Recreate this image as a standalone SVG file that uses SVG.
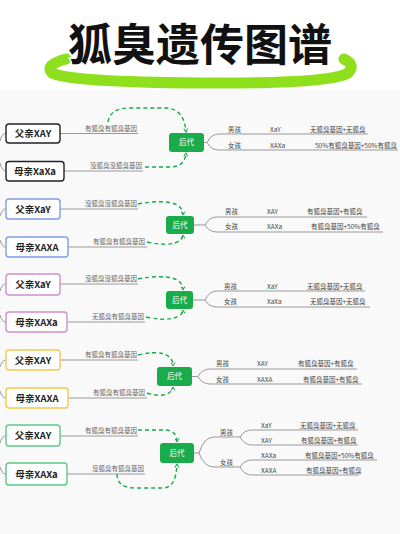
<svg xmlns="http://www.w3.org/2000/svg" width="400" height="534" viewBox="0 0 400 534">
<defs>
<style>
.bg{fill:#f9f9f9}
.pbox{fill:#fff;stroke-width:1.4}
.ptxt{font-family:"Noto Sans CJK SC","Noto Sans",sans-serif;font-weight:700;font-size:9.5px;fill:#222}
.lbl{font-family:"Noto Sans CJK SC","Noto Sans",sans-serif;font-size:6.5px;fill:#666}
.rt{font-family:"Noto Sans CJK SC","Noto Sans",sans-serif;font-size:6.5px;fill:#444}
.gl{fill:none;stroke:#999;stroke-width:1}
.dash{fill:none;stroke:#1aab4b;stroke-width:1.4;stroke-dasharray:4 3;marker-end:url(#arr)}
.kid{fill:#1aab4b}
.kt{font-family:"Noto Sans CJK SC","Noto Sans",sans-serif;font-size:7.5px;fill:#fff;text-anchor:middle}
</style>
<marker id="arr" viewBox="0 0 10 10" refX="8" refY="5" markerWidth="5" markerHeight="5" orient="auto" markerUnits="userSpaceOnUse">
<path d="M1 1 L8 5 L1 9" fill="none" stroke="#1aab4b" stroke-width="2"/>
</marker>
</defs>
<rect width="400" height="534" fill="#fff"/>
<rect class="bg" x="0" y="90" width="400" height="444"/>

<g id="title">
<path d="M66 59 Q44 65 52 73 Q70 82 200 83 Q330 84 348 73 Q356 65 344 59" fill="none" stroke="#8ee01c" stroke-width="11" stroke-linecap="round"/>
<text x="200" y="61" text-anchor="middle" font-family="Noto Sans CJK SC, sans-serif" font-weight="700" font-size="44" fill="#111" stroke="#fff" stroke-width="3" paint-order="stroke">狐臭遗传图谱</text>
</g>

<g id="connectors">
<path class="gl" d="M0 141 Q2 133 6 133.5"/>
<path class="gl" d="M0 163 Q2 171 6 171"/>
<path class="gl" d="M0 216 Q2 209 6 209"/>
<path class="gl" d="M0 240 Q2 247 6 247"/>
<path class="gl" d="M0 291 Q2 284 6 284"/>
<path class="gl" d="M0 315 Q2 322 6 322"/>
<path class="gl" d="M0 367 Q2 360 6 360"/>
<path class="gl" d="M0 391 Q2 398 6 398"/>
<path class="gl" d="M0 443 Q2 436 6 436"/>
<path class="gl" d="M0 467 Q2 474 6 474"/>
<path class="gl" d="M60 133.5 H138"/>
<path class="gl" d="M64 171 H143"/>
<path class="gl" d="M60 209 H138"/>
<path class="gl" d="M68 247 H147"/>
<path class="gl" d="M60 284 H138"/>
<path class="gl" d="M67 322 H145"/>
<path class="gl" d="M60 360 H138"/>
<path class="gl" d="M68 398 H147"/>
<path class="gl" d="M60 436 H138"/>
<path class="gl" d="M67 474 H145"/>
<path class="dash" d="M108 122 Q110 108 130 108 H165 Q184 108 186 132"/>
<path class="dash" d="M145 167 H172 Q185 166 186 153"/>
<path class="dash" d="M138 204 Q160 200 172 203 Q183 206 183 215"/>
<path class="dash" d="M147 242 Q165 246 175 243 Q183 240 183 235"/>
<path class="dash" d="M138 279 Q160 275 172 278 Q183 281 183 290"/>
<path class="dash" d="M146 317 Q164 321 174 318 Q183 315 183 310"/>
<path class="dash" d="M138 355 Q155 351 164 354 Q173 357 173 366"/>
<path class="dash" d="M147 393 Q160 397 167 394 Q173 391 173 387"/>
<path class="dash" d="M138 430 H166 Q177 431 177 442"/>
<path class="dash" d="M117 474 Q117 488 135 488 H163 Q176 488 177 464"/>
<path class="gl" d="M204 142.5 H207 Q211 134 219 134 H368"/>
<path class="gl" d="M207 142.5 Q211 150 219 150 H398"/>
<path class="gl" d="M194 225 H205 Q209 217 217 217 H367"/>
<path class="gl" d="M205 225 Q209 232 217 232 H383"/>
<path class="gl" d="M193 300 H205 Q209 291 217 291 H365"/>
<path class="gl" d="M205 300 Q209 307 217 307 H370"/>
<path class="gl" d="M192 376.5 H198 Q202 369 210 369 H357"/>
<path class="gl" d="M198 376.5 Q202 384 210 384 H362"/>
<path class="gl" d="M194 453 H199 Q204 437 214 437 H240"/>
<path class="gl" d="M199 453 Q204 467 214 467 H240"/>
<path class="gl" d="M240 437 Q244 430 252 430 H358"/>
<path class="gl" d="M240 437 Q244 445 252 445 H358"/>
<path class="gl" d="M240 467 Q244 460 252 460 H377"/>
<path class="gl" d="M240 467 Q244 475 252 475 H359"/>
</g>

<g id="labels">
<text class="lbl" x="85" y="130.5">有狐臭有狐臭基因</text>
<text class="lbl" x="90" y="168">没狐臭没狐臭基因</text>
<text class="lbl" x="85" y="206">没狐臭没狐臭基因</text>
<text class="lbl" x="93" y="244">有狐臭有狐臭基因</text>
<text class="lbl" x="85" y="281">没狐臭没狐臭基因</text>
<text class="lbl" x="92" y="319">无狐臭有狐臭基因</text>
<text class="lbl" x="85" y="357">有狐臭有狐臭基因</text>
<text class="lbl" x="93" y="395">有狐臭有狐臭基因</text>
<text class="lbl" x="85" y="433">有狐臭有狐臭基因</text>
<text class="lbl" x="92" y="471">没狐臭有狐臭基因</text>
</g>

<g id="set1">
<g id="father1"><rect class="pbox" x="6" y="124" width="54" height="19" rx="3" stroke="#222"/><text class="ptxt" x="33" y="137" text-anchor="middle">父亲XAY</text></g>
<g id="mother1"><rect class="pbox" x="6" y="161.5" width="58" height="19.5" rx="3" stroke="#222"/><text class="ptxt" x="35" y="174.5" text-anchor="middle">母亲XaXa</text></g>
<g id="child1"><rect class="kid" x="169" y="133" width="35" height="19" rx="3"/><text class="kt" x="186.5" y="145">后代</text></g>
<g id="res1">
<text class="rt" x="228" y="131.5">男孩</text><text class="rt" x="270" y="131.5">XaY</text><text class="rt" x="310" y="131.5">无狐臭基因+无狐臭</text>
<text class="rt" x="228" y="147.5">女孩</text><text class="rt" x="270" y="147.5">XAXa</text><text class="rt" x="315" y="147.5">50%有狐臭基因+50%有狐臭</text>
</g>
</g>

<g id="set2">
<g id="father2"><rect class="pbox" x="6" y="199" width="54" height="20" rx="3" stroke="#7d9de6"/><text class="ptxt" x="33" y="212.5" text-anchor="middle">父亲XaY</text></g>
<g id="mother2"><rect class="pbox" x="6" y="237" width="62" height="20" rx="3" stroke="#7d9de6"/><text class="ptxt" x="37" y="250.5" text-anchor="middle">母亲XAXA</text></g>
<g id="child2"><rect class="kid" x="166" y="216" width="28" height="18" rx="3"/><text class="kt" x="180" y="227.5">后代</text></g>
<g id="res2">
<text class="rt" x="225" y="214">男孩</text><text class="rt" x="267" y="214">XAY</text><text class="rt" x="307" y="214">有狐臭基因+有狐臭</text>
<text class="rt" x="225" y="229">女孩</text><text class="rt" x="267" y="229">XAXa</text><text class="rt" x="311" y="229">有狐臭基因+50%有狐臭</text>
</g>
</g>

<g id="set3">
<g id="father3"><rect class="pbox" x="6" y="274" width="54" height="21" rx="3" stroke="#d08ed0"/><text class="ptxt" x="33" y="288" text-anchor="middle">父亲XaY</text></g>
<g id="mother3"><rect class="pbox" x="6" y="312" width="61" height="20" rx="3" stroke="#d08ed0"/><text class="ptxt" x="36.5" y="325.5" text-anchor="middle">母亲XAXa</text></g>
<g id="child3"><rect class="kid" x="166" y="291" width="27" height="18" rx="3"/><text class="kt" x="179.5" y="302.5">后代</text></g>
<g id="res3">
<text class="rt" x="224" y="288.5">男孩</text><text class="rt" x="267" y="288.5">XaY</text><text class="rt" x="307" y="288.5">无狐臭基因+无狐臭</text>
<text class="rt" x="224" y="304">女孩</text><text class="rt" x="267" y="304">XaXa</text><text class="rt" x="310" y="304">无狐臭基因+无狐臭</text>
</g>
</g>

<g id="set4">
<g id="father4"><rect class="pbox" x="6" y="350" width="54" height="20" rx="3" stroke="#f2c94c"/><text class="ptxt" x="33" y="363.5" text-anchor="middle">父亲XAY</text></g>
<g id="mother4"><rect class="pbox" x="6" y="388" width="62" height="20" rx="3" stroke="#f2c94c"/><text class="ptxt" x="37" y="401.5" text-anchor="middle">母亲XAXA</text></g>
<g id="child4"><rect class="kid" x="157" y="367" width="35" height="19" rx="3"/><text class="kt" x="174.5" y="379">后代</text></g>
<g id="res4">
<text class="rt" x="216" y="366">男孩</text><text class="rt" x="257" y="366">XAY</text><text class="rt" x="298" y="366">有狐臭基因+有狐臭</text>
<text class="rt" x="216" y="381.5">女孩</text><text class="rt" x="257" y="381.5">XAXA</text><text class="rt" x="303" y="381.5">有狐臭基因+有狐臭</text>
</g>
</g>

<g id="set5">
<g id="father5"><rect class="pbox" x="6" y="425" width="54" height="21" rx="3" stroke="#5cc98a"/><text class="ptxt" x="33" y="439" text-anchor="middle">父亲XAY</text></g>
<g id="mother5"><rect class="pbox" x="6" y="463" width="61" height="22" rx="3" stroke="#5cc98a"/><text class="ptxt" x="36.5" y="477.5" text-anchor="middle">母亲XAXa</text></g>
<g id="child5"><rect class="kid" x="160" y="443" width="34" height="20" rx="3"/><text class="kt" x="177" y="455.5">后代</text></g>
<g id="res5">
<text class="rt" x="220" y="434.5">男孩</text><text class="rt" x="220" y="464.5">女孩</text>
<text class="rt" x="261" y="427.5">XaY</text><text class="rt" x="300" y="427.5">无狐臭基因+无狐臭</text>
<text class="rt" x="261" y="442.5">XAY</text><text class="rt" x="301" y="442.5">有狐臭基因+有狐臭</text>
<text class="rt" x="261" y="457.5">XAXa</text><text class="rt" x="305" y="457.5">有狐臭基因+50%有狐臭</text>
<text class="rt" x="261" y="472.5">XAXA</text><text class="rt" x="306" y="472.5">有狐臭基因+有狐臭</text>
</g>
</g>
</svg>
